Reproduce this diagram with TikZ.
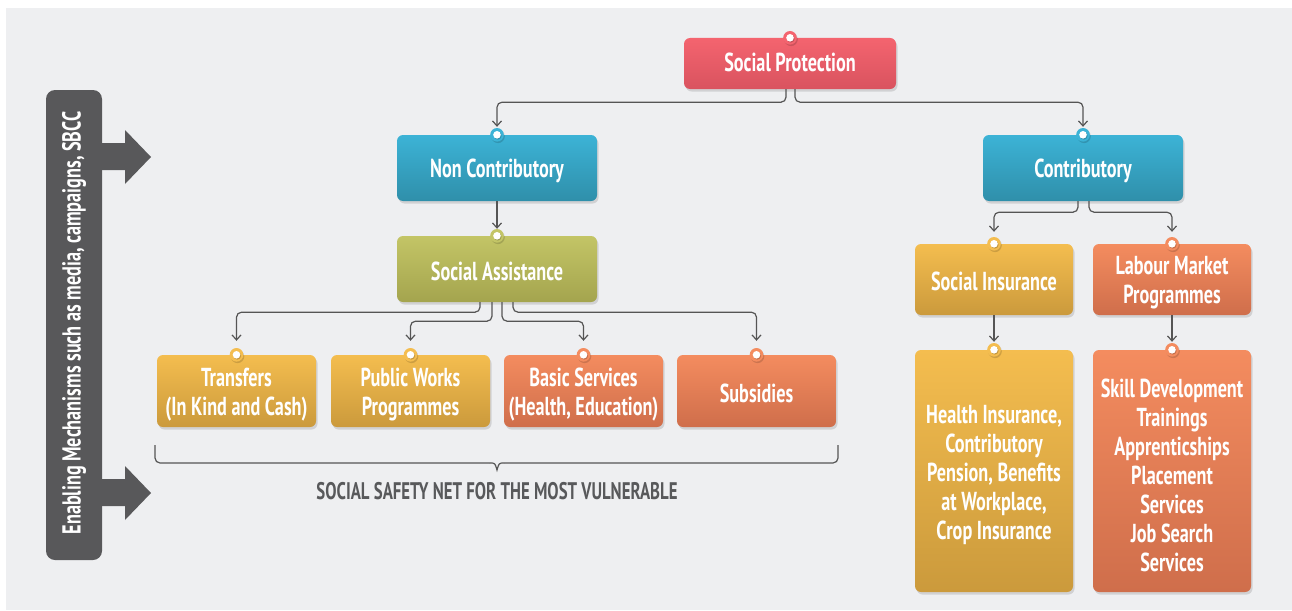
\documentclass[tikz,border=0pt]{standalone}
\usepackage{fontspec}
\newfontfamily\cf{PT Sans}[FakeStretch=0.7]
\usetikzlibrary{arrows.meta,calc}
\definecolor{bg}{HTML}{EEEFF1}
\definecolor{redT}{HTML}{F4646F}\definecolor{redB}{HTML}{D9535F}
\definecolor{bluT}{HTML}{3CB3D6}\definecolor{bluB}{HTML}{2F8FAA}
\definecolor{olvT}{HTML}{C3C566}\definecolor{olvB}{HTML}{A4A44E}
\definecolor{yelT}{HTML}{F4BD4F}\definecolor{yelB}{HTML}{CB9A3C}
\definecolor{orgT}{HTML}{F48C5F}\definecolor{orgB}{HTML}{CF6E4B}
\definecolor{barc}{HTML}{58585A}
\definecolor{linec}{HTML}{555555}
\definecolor{txtc}{HTML}{58595B}
\tikzset{
  box/.style={rounded corners=6pt, inner sep=0pt},
  boxtext/.style={text=white, align=center, inner sep=0pt,
    font=\cf\bfseries\fontsize{26}{29}\selectfont},
  redbox/.style={box, top color=redT, bottom color=redB},
  blubox/.style={box, top color=bluT, bottom color=bluB},
  olvbox/.style={box, top color=olvT, bottom color=olvB},
  yelbox/.style={box, top color=yelT, bottom color=yelB},
  orgbox/.style={box, top color=orgT, bottom color=orgB},
  conn/.style={draw=linec, line width=1.2pt, rounded corners=5pt,
    -{Straight Barb[length=5pt,width=9pt,line width=1.2pt]}},
}
\newcommand{\mybox}[8]{% name, style, cx, cy, w, h, text drop, text
  \fill[black, opacity=0.12, rounded corners=6pt] (#3-#5/2+1.5,#4-#6/2+2.5) rectangle (#3+#5/2+1.5,#4+#6/2+2.5);
  \node[#2, minimum width=#5pt, minimum height=#6pt] (#1) at (#3,#4) {};
  \node[boxtext] (#1-t) at ([yshift=-#7pt]#1.center) {#8};}
\newcommand{\pin}[2]{% node, colour
  \fill[black,opacity=0.15] ([xshift=1pt,yshift=-1.5pt]#1.north) circle (6.8pt);
  \fill[#2] (#1.north) circle (6.8pt);
  \fill[black,opacity=0.2] ([xshift=0.8pt,yshift=-1pt]#1.north) circle (3.8pt);
  \fill[white] (#1.north) circle (3.8pt);}
\begin{document}
\begin{tikzpicture}[x=1pt,y=-1pt]
\useasboundingbox (0,0) rectangle (1292,610);
\fill[white] (0,0) rectangle (1292,610);
\fill[bg] (6,8) rectangle (1292,610);

% left bar
\fill[barc, rounded corners=9pt] (46,90) rectangle (102,560);
\fill[barc] (100,143) -- (125,143) -- (125,130) -- (151,157) -- (125,184) -- (125,170) -- (100,170) -- cycle;
\fill[barc] (100,479) -- (125,479) -- (125,466) -- (151,493) -- (125,520) -- (125,506) -- (100,506) -- cycle;
\node[rotate=90, text=white, font=\cf\bfseries\fontsize{26}{29}\selectfont] (bartext) at (74,323) {Enabling Mechanisms such as media, campaigns, SBCC};

% boxes
\mybox{sp}{redbox}{790}{63.5}{212}{51}{-1}{Social Protection}
\mybox{nc}{blubox}{497}{168}{200}{66}{3}{Non Contributory}
\mybox{co}{blubox}{1083}{168}{200}{66}{3}{Contributory}
\mybox{sa}{olvbox}{497}{269}{200}{66}{2}{Social Assistance}
\mybox{tr}{yelbox}{236.5}{391}{159}{72}{3.5}{Transfers\\(In Kind and Cash)}
\mybox{pw}{yelbox}{410.5}{391}{159}{72}{3.5}{Public Works\\Programmes}
\mybox{bs}{orgbox}{583.5}{391}{159}{72}{3.5}{Basic Services\\(Health, Education)}
\mybox{su}{orgbox}{756.5}{391}{159}{72}{2}{Subsidies}
\mybox{si}{yelbox}{994}{279.5}{158}{71}{2}{Social Insurance}
\mybox{lm}{orgbox}{1172}{279.5}{158}{71}{3}{Labour Market\\Programmes}
\mybox{hi}{yelbox}{994}{471}{158}{242}{4}{Health Insurance,\\Contributory\\Pension, Benefits\\at Workplace,\\Crop Insurance}
\mybox{sk}{orgbox}{1172}{471}{158}{242}{4}{Skill Development\\Trainings\\Apprenticships\\Placement\\Services\\Job Search\\Services}

% connectors
\draw[conn] ([xshift=-4pt]sp.south) -- ++(0,13) -| ([yshift=8pt]nc.north);
\draw[conn] ([xshift=5pt]sp.south) -- ++(0,13) -| ([yshift=8pt]co.north);
\draw[conn] (nc.south) -- ([yshift=7pt]sa.north);
\draw[conn] ([xshift=-17pt]sa.south) -- ++(0,10) -| ([yshift=14pt]tr.north);
\draw[conn] ([xshift=-5pt]sa.south) -- ++(0,19) -| ([yshift=14pt]pw.north);
\draw[conn] ([xshift=5pt]sa.south) -- ++(0,19) -| ([yshift=14pt]bs.north);
\draw[conn] ([xshift=16pt]sa.south) -- ++(0,10) -| ([yshift=14pt]su.north);
\draw[conn] ([xshift=-5pt]co.south) -- ++(0,11) -| ([yshift=12pt]si.north);
\draw[conn] ([xshift=6pt]co.south) -- ++(0,11) -| ([yshift=12pt]lm.north);
\draw[conn] (si.south) -- ([yshift=8pt]hi.north);
\draw[conn] (lm.south) -- ([yshift=8pt]sk.north);

% pins
\pin{sp}{redT}\pin{nc}{bluT}\pin{co}{bluT}\pin{sa}{olvT}
\pin{tr}{yelT}\pin{pw}{yelT}\pin{bs}{orgT}\pin{su}{orgT}
\pin{si}{yelT}\pin{lm}{orgT}\pin{hi}{yelT}\pin{sk}{orgT}

% brace
\coordinate (bl) at (155,445);
\coordinate (br) at (838,445);
\coordinate (bt) at (497,470);
\draw[linec, line width=1.2pt, rounded corners=5pt] (bl) -- (155,463) -- (490,463);
\draw[linec, line width=1.2pt, rounded corners=5pt] (br) -- (838,463) -- (504,463);
\draw[linec, line width=1.2pt] (490,463) .. controls (495,463) .. (bt) .. controls (499,463) .. (504,463);
\node[text=txtc, font=\cf\bfseries\fontsize{24}{29}\selectfont] (ssn) at (497,491) {SOCIAL SAFETY NET FOR THE MOST VULNERABLE};
\end{tikzpicture}
\end{document}
